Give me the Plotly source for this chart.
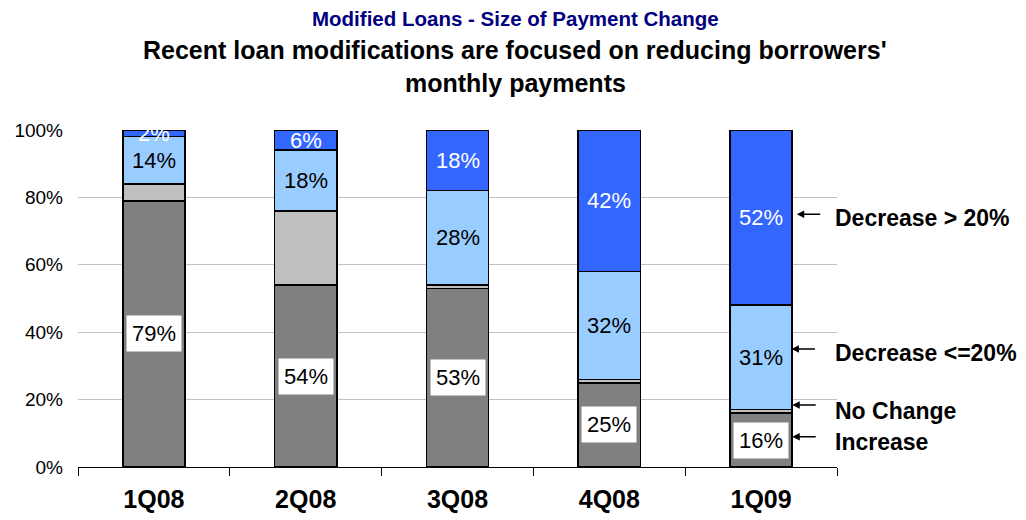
import plotly.graph_objects as go
import numpy as np

categories = ["1Q08", "2Q08", "3Q08", "4Q08", "1Q09"]
increase = [79, 54, 53, 25, 16]
no_change = [5, 22, 1, 1, 1]
dec_small = [14, 18, 28, 32, 31]
dec_large = [2, 6, 18, 42, 52]
series_names = ["Increase", "No Change", "Decrease <=20%", "Decrease > 20%"]
series_values = [increase, no_change, dec_small, dec_large]
colors = ["#808080", "#C0C0C0", "#99CCFF", "#3366FF"]
y_ticks = [0, 20, 40, 60, 80, 100]

FONT = "Liberation Sans, Arial, sans-serif"

fig = go.Figure()
for name, vals, col in zip(series_names, series_values, colors):
    fig.add_trace(go.Bar(
        x=categories, y=[v / 100 for v in vals], name=name,
        marker=dict(color=col, line=dict(color="black", width=1.5)),
        hoverinfo="skip",
    ))

annotations = []
cum = np.zeros(len(categories))
for si, vals in enumerate(series_values):
    vals = np.array(vals, dtype=float)
    mids = (cum + vals / 2) / 100
    for ci, cat in enumerate(categories):
        if si == 0:
            annotations.append(dict(x=cat, y=mids[ci], xref="x", yref="y", text=f"{int(vals[ci])}%",
                                    showarrow=False, bgcolor="white", borderpad=5,
                                    font=dict(size=22, color="black", family=FONT)))
        elif si == 2:
            annotations.append(dict(x=cat, y=mids[ci], xref="x", yref="y", text=f"{int(vals[ci])}%",
                                    showarrow=False, font=dict(size=22, color="black", family=FONT)))
        elif si == 3:
            annotations.append(dict(x=cat, y=mids[ci], xref="x", yref="y", text=f"{int(vals[ci])}%",
                                    showarrow=False, font=dict(size=22, color="white", family=FONT)))
    cum += vals

# right-side labels with arrows
right_labels = ["Decrease > 20%", "Decrease <=20%", "No Change", "Increase"]
arrow_y = [0.75, 0.35, 0.184, 0.09]
text_y = [0.739, 0.338, 0.166, 0.074]
arrow_x = [4.235, 4.2, 4.205, 4.205]
for lab, ay_, ty, axx in zip(right_labels, arrow_y, text_y, arrow_x):
    annotations.append(dict(x=axx, y=ay_, xref="x", yref="y", text="", showarrow=True,
                            ax=25, ay=0, axref="pixel", ayref="pixel",
                            arrowhead=2, arrowsize=1, arrowwidth=1.5, arrowcolor="black"))
    annotations.append(dict(x=0.995, y=ty, xref="paper", yref="y", text=f"<b>{lab}</b>",
                            showarrow=False, xanchor="left", yanchor="middle",
                            font=dict(size=23, color="black", family=FONT)))

# titles
annotations.append(dict(x=0.576, y=1.332, xref="paper", yref="paper", showarrow=False,
                        yanchor="middle",
                        text="<b>Modified Loans - Size of Payment Change</b>",
                        font=dict(size=20.5, color="#000080", family=FONT)))
annotations.append(dict(x=0.576, y=1.237, xref="paper", yref="paper", showarrow=False,
                        yanchor="middle",
                        text="<b>Recent loan modifications are focused on reducing borrowers'</b>",
                        font=dict(size=25, color="black", family=FONT)))
annotations.append(dict(x=0.576, y=1.139, xref="paper", yref="paper", showarrow=False,
                        yanchor="middle",
                        text="<b>monthly payments</b>",
                        font=dict(size=25, color="black", family=FONT)))

fig.update_layout(
    barmode="stack", bargap=0.59, showlegend=False,
    width=1018, height=512,
    margin=dict(l=70, r=189, t=122, b=53),
    paper_bgcolor="white", plot_bgcolor="white",
    annotations=annotations,
    font=dict(family=FONT, color="black"),
)
fig.update_xaxes(
    type="category", tickson="boundaries", ticks="outside", ticklen=8, tickcolor="black",
    showline=True, linecolor="black", linewidth=1, showgrid=False, automargin=False,
    tickfont=dict(size=25, family=FONT, color="black"), ticklabelstandoff=10,
    tickvals=categories, ticktext=[f"<b>{c}</b>" for c in categories],
)
fig.update_yaxes(
    range=[0, 1], tickvals=[t / 100 for t in y_ticks], ticktext=[f"{t}%" for t in y_ticks],
    showgrid=True, gridcolor="#C0C0C0", gridwidth=1, zeroline=False, showline=False,
    automargin=False,
    tickfont=dict(size=19, family=FONT, color="black"), ticklabelstandoff=14,
)

fig.write_html("out.html")
